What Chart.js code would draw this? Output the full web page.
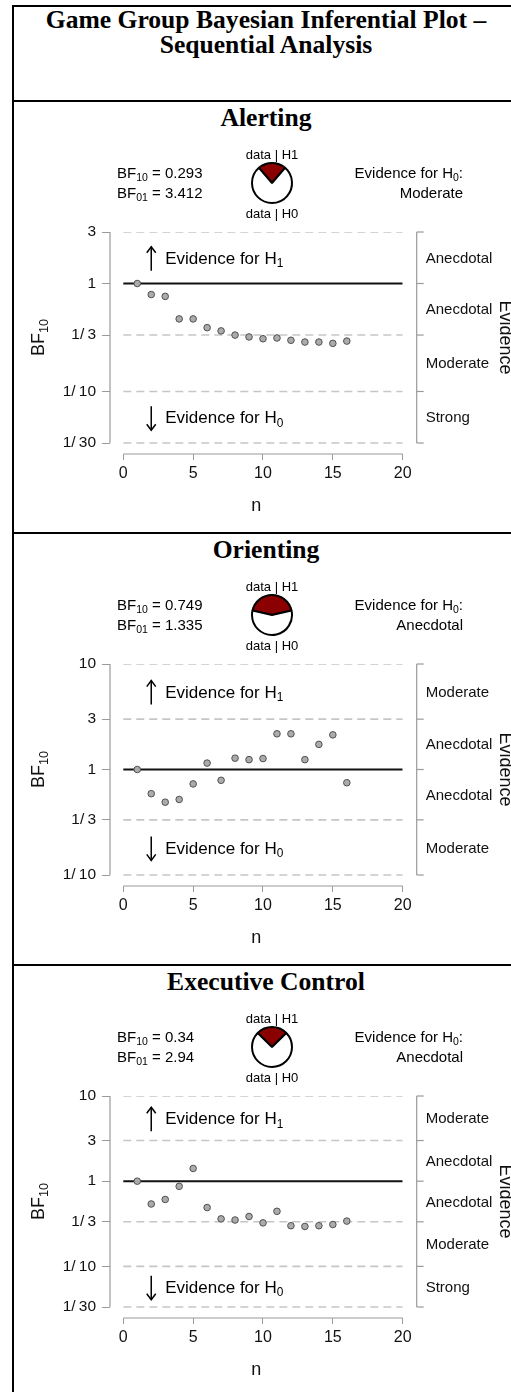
<!DOCTYPE html>
<html>
<head>
<meta charset="utf-8">
<script src="https://cdn.jsdelivr.net/npm/chart.js@4.4.1/dist/chart.umd.min.js"></script>
<style>
html, body { margin:0; padding:0; background:#fff; overflow:hidden; }
#page { position:relative; width:511px; height:1392px; overflow:hidden; background:#fff; }
.rule { position:absolute; background:#000; }
.ttl { position:absolute; left:12px; width:508px; text-align:center; white-space:nowrap;
       font:bold 25.6px 'Liberation Serif','Times New Roman',serif; line-height:26px; color:#000; }
canvas { position:absolute; }
</style>
</head>
<body>
<div id="page"></div>
<script>
// ---- data ----
const nValues = [1, 2, 3, 4, 5, 6, 7, 8, 9, 10, 11, 12, 13, 14, 15, 16];
const alertingBF  = [1, 0.79, 0.76, 0.47, 0.47, 0.39, 0.364, 0.333, 0.32, 0.308, 0.313, 0.298, 0.287, 0.287, 0.279, 0.293];
const orientingBF = [1, 0.59, 0.49, 0.52, 0.73, 1.15, 0.79, 1.28, 1.24, 1.27, 2.18, 2.18, 1.24, 1.73, 2.13, 0.749];
const executiveBF = [1, 0.54, 0.61, 0.87, 1.41, 0.49, 0.361, 0.35, 0.385, 0.324, 0.443, 0.30, 0.294, 0.30, 0.31, 0.34];

const panelTitles = ['Alerting', 'Orienting', 'Executive Control'];
const bf10Values  = [0.293, 0.749, 0.34];
const bf10Text    = ['0.293', '0.749', '0.34'];
const bf01Text    = ['3.412', '1.335', '2.94'];
const evidenceWord = ['Moderate', 'Anecdotal', 'Anecdotal'];

const xTicks = [0, 5, 10, 15, 20];
const yTickValues = [
  [3, 1, 1/3, 1/10, 1/30],
  [10, 3, 1, 1/3, 1/10],
  [10, 3, 1, 1/3, 1/10, 1/30]
];
const yTickLabels = [
  ['3', '1', '1/\u20093', '1/\u200910', '1/\u200930'],
  ['10', '3', '1', '1/\u20093', '1/\u200910'],
  ['10', '3', '1', '1/\u20093', '1/\u200910', '1/\u200930']
];
const bandLabels = [
  ['Anecdotal', 'Anecdotal', 'Moderate', 'Strong'],
  ['Moderate', 'Anecdotal', 'Anecdotal', 'Moderate'],
  ['Moderate', 'Anecdotal', 'Anecdotal', 'Moderate', 'Strong']
];
const seriesBF = [alertingBF, orientingBF, executiveBF];

// ---- layout ----
const SANS = "'Liberation Sans', Arial, sans-serif";
const PANEL_H = 432;
Chart.defaults.font.family = SANS;
Chart.defaults.color = '#111';

const page = document.getElementById('page');

function rule(x, y, w, h) {
  const d = document.createElement('div');
  d.className = 'rule';
  d.style.left = x + 'px'; d.style.top = y + 'px';
  d.style.width = w + 'px'; d.style.height = h + 'px';
  page.appendChild(d);
}
function title(text, top) {
  const d = document.createElement('div');
  d.className = 'ttl';
  d.style.top = top + 'px';
  d.textContent = text;
  page.appendChild(d);
}

rule(12, 5, 520, 2);
rule(12, 5, 2, 1400);
title('Game Group Bayesian Inferential Plot \u2013', 7.2);
title('Sequential Analysis', 32.2);

// text with a subscript, pieces = [[text, isSub], ...], cy = visual middle
function subText(ctx, pieces, x, cy, size, align) {
  const subSize = size * 0.7;
  const base = cy + size * 0.36;
  let widths = pieces.map(p => {
    ctx.font = (p[1] ? subSize : size) + 'px ' + SANS;
    return ctx.measureText(p[0]).width;
  });
  const total = widths.reduce((a, b) => a + b, 0);
  let sx = align === 'right' ? x - total : align === 'center' ? x - total / 2 : x;
  ctx.textAlign = 'left';
  ctx.textBaseline = 'alphabetic';
  pieces.forEach((p, k) => {
    ctx.font = (p[1] ? subSize : size) + 'px ' + SANS;
    ctx.fillText(p[0], sx, p[1] ? base + size * 0.2 : base);
    sx += widths[k];
  });
}

function seg(ctx, x1, y1, x2, y2) {
  ctx.beginPath(); ctx.moveTo(x1, y1); ctx.lineTo(x2, y2); ctx.stroke();
}

function arrow(ctx, x, yFrom, yTo) {
  seg(ctx, x, yFrom, x, yTo);
  const d = yTo < yFrom ? 1 : -1;
  ctx.beginPath();
  ctx.moveTo(x - 4.5, yTo + d * 6);
  ctx.lineTo(x, yTo);
  ctx.lineTo(x + 4.5, yTo + d * 6);
  ctx.stroke();
}

function decor(i) {
  return {
    id: 'decor' + i,
    afterDraw(chart) {
      const ctx = chart.ctx, xs = chart.scales.x, ys = chart.scales.y, ca = chart.chartArea;
      const vals = yTickValues[i];
      const yTop = ys.getPixelForValue(vals[0]);
      const yBot = ys.getPixelForValue(vals[vals.length - 1]);
      const yMid = (yTop + yBot) / 2;
      ctx.save();
      ctx.strokeStyle = '#9a9a9a';
      ctx.lineWidth = 1.2;
      seg(ctx, ca.left, yTop, ca.left, yBot);
      seg(ctx, xs.getPixelForValue(0), ca.bottom, xs.getPixelForValue(20), ca.bottom);

      // evidence bracket on the right
      const bx = xs.getPixelForValue(20) + 14;
      seg(ctx, bx, yTop, bx, yBot);
      vals.forEach(v => { const y = ys.getPixelForValue(v); seg(ctx, bx, y, bx + 7, y); });
      ctx.fillStyle = '#111';
      ctx.font = '15px ' + SANS;
      ctx.textAlign = 'left';
      ctx.textBaseline = 'middle';
      bandLabels[i].forEach((t, k) => {
        const y = (ys.getPixelForValue(vals[k]) + ys.getPixelForValue(vals[k + 1])) / 2;
        ctx.fillText(t, bx + 9, y + 1);
      });

      // rotated axis titles
      ctx.save();
      ctx.translate(505, yMid);
      ctx.rotate(Math.PI / 2);
      ctx.font = '18px ' + SANS;
      ctx.textAlign = 'center';
      ctx.fillText('Evidence', 0, 0);
      ctx.restore();
      ctx.save();
      ctx.translate(38, yMid);
      ctx.rotate(-Math.PI / 2);
      subText(ctx, [['BF', 0], ['10', 1]], 0, 0, 18, 'center');
      ctx.restore();

      // evidence arrows
      ctx.strokeStyle = '#000';
      ctx.lineWidth = 1.5;
      const ax = xs.getPixelForValue(2);
      const upY = (ys.getPixelForValue(vals[0]) + ys.getPixelForValue(vals[1])) / 2;
      const dnY = (ys.getPixelForValue(vals[vals.length - 2]) + yBot) / 2;
      arrow(ctx, ax, upY + 13, upY - 11);
      arrow(ctx, ax, dnY - 11, dnY + 13);
      ctx.fillStyle = '#000';
      subText(ctx, [['Evidence for H', 0], ['1', 1]], ax + 14, upY, 17, 'left');
      subText(ctx, [['Evidence for H', 0], ['0', 1]], ax + 14, dnY, 17, 'left');

      // header texts
      subText(ctx, [['BF', 0], ['10', 1], [' = ' + bf10Text[i], 0]], 117, 71, 15, 'left');
      subText(ctx, [['BF', 0], ['01', 1], [' = ' + bf01Text[i], 0]], 117, 91, 15, 'left');
      subText(ctx, [['Evidence for H', 0], ['0', 1], [':', 0]], 463, 71, 15, 'right');
      subText(ctx, [[evidenceWord[i], 0]], 463, 91, 15, 'right');
      subText(ctx, [['data | H1', 0]], 272, 52, 13, 'center');
      subText(ctx, [['data | H0', 0]], 272, 111, 13, 'center');
      ctx.restore();
    }
  };
}

function makePanel(i) {
  const oy = PANEL_H * i;
  rule(12, 100 + oy, 520, 2);
  title(panelTitles[i], 105.2 + oy);

  const cv = document.createElement('canvas');
  cv.width = 511; cv.height = 428;
  cv.style.left = '0px'; cv.style.top = (102 + oy) + 'px';
  page.appendChild(cv);

  const vals = yTickValues[i];
  const hi = vals[0], lo = vals[vals.length - 1];
  const yMin = lo / Math.pow(hi / lo, 11 / 211);

  const refLines = vals.filter(v => v !== 1).map(v => ({
    data: [{ x: 0, y: v }, { x: 20, y: v }],
    showLine: true, borderColor: '#c6c6c6', borderWidth: 1.6, borderDash: [8, 5], pointRadius: 0
  }));

  new Chart(cv, {
    type: 'scatter',
    data: {
      datasets: [
        {
          data: nValues.map((n, k) => ({ x: n, y: seriesBF[i][k] })),
          pointRadius: 3.3, pointBackgroundColor: '#ababab', pointBorderColor: '#505050', pointBorderWidth: 1
        },
        {
          data: [{ x: 0, y: 1 }, { x: 20, y: 1 }],
          showLine: true, borderColor: '#111', borderWidth: 2, pointRadius: 0
        }
      ].concat(refLines)
    },
    options: {
      responsive: false,
      animation: false,
      events: [],
      layout: { padding: { left: 46, top: 130, right: 108.3, bottom: 12 } },
      plugins: { legend: { display: false }, tooltip: { enabled: false } },
      scales: {
        x: {
          type: 'linear', min: -0.952, max: 20,
          afterBuildTicks: s => { s.ticks = xTicks.map(v => ({ value: v })); },
          afterFit: s => { s.height = 64; },
          grid: { drawOnChartArea: false, color: '#9a9a9a', tickLength: 6 },
          border: { display: false },
          ticks: { font: { size: 16 }, color: '#111', padding: 4, maxRotation: 0 },
          title: { display: true, text: 'n', font: { size: 18 }, color: '#111', padding: { top: 0, bottom: 1 } }
        },
        y: {
          type: 'logarithmic', min: yMin, max: hi,
          afterBuildTicks: s => { s.ticks = vals.map(v => ({ value: v })); },
          afterFit: s => { s.width = 64; },
          grid: { drawOnChartArea: false, color: '#9a9a9a', tickLength: 8 },
          border: { display: false },
          ticks: { font: { size: 15.5 }, color: '#111', padding: 6, callback: (v, idx) => yTickLabels[i][idx] }
        }
      }
    },
    plugins: [decor(i)]
  });

  // Bayes factor pie
  const pc = document.createElement('canvas');
  pc.width = 44; pc.height = 44;
  pc.style.left = '250px'; pc.style.top = (161 + oy) + 'px';
  page.appendChild(pc);
  const frac = bf10Values[i] / (1 + bf10Values[i]);
  new Chart(pc, {
    type: 'pie',
    data: {
      labels: ['data | H1', 'data | H0'],
      datasets: [{ data: [bf10Values[i], 1], backgroundColor: ['#8b0000', '#ffffff'], borderColor: '#000', borderWidth: 2 }]
    },
    options: {
      responsive: false, animation: false, events: [],
      rotation: -frac * 180,
      layout: { padding: 1 },
      plugins: { legend: { display: false }, tooltip: { enabled: false } }
    }
  });
}

[0, 1, 2].forEach(makePanel);
</script>
</body>
</html>
